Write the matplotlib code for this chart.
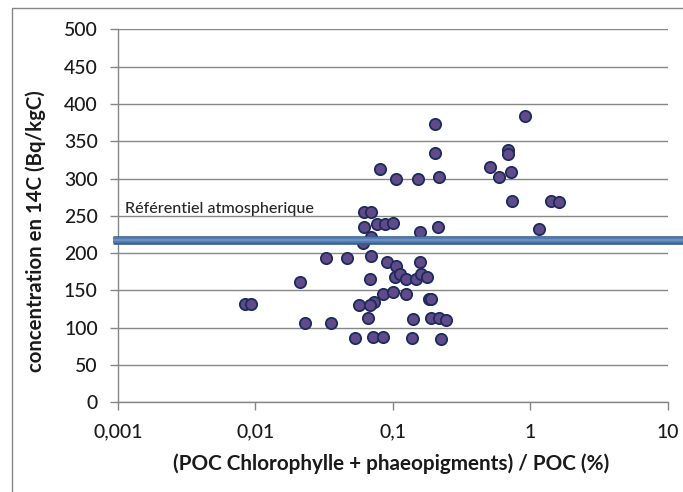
import matplotlib
matplotlib.use("Agg")
import matplotlib.pyplot as plt
from matplotlib.patches import Rectangle

# ratio chlorophylle+phaeopigments / POC (%) and 14C concentration (Bq/kgC)
ratio = [0.00832, 0.00931, 0.0212, 0.0228, 0.0328, 0.0356, 0.0462, 0.0526,
         0.0567, 0.0611, 0.0692, 0.0617, 0.0605, 0.0692, 0.0692, 0.0675,
         0.0658, 0.0713, 0.0726, 0.0684, 0.0769, 0.0871, 0.1003, 0.0844,
         0.0844, 0.0910, 0.1048, 0.1003, 0.1035, 0.1116, 0.124, 0.124,
         0.137, 0.139, 0.146, 0.156, 0.156, 0.159, 0.178, 0.183,
         0.190, 0.188, 0.216, 0.212, 0.222, 0.241, 0.728, 1.16,
         1.41, 1.62, 0.203, 0.906, 0.203, 0.684, 0.687, 0.0798,
         0.507, 0.716, 0.1044, 0.153, 0.216, 0.589]
conc = [131.7, 131.7, 161.6, 105.8, 192.9, 105.8, 192.9, 86.6,
        130.8, 254.9, 254.9, 234.4, 213.8, 221, 196, 164.7,
        113.4, 87, 133.9, 130.8, 238.8, 238.8, 241, 145,
        87, 187.5, 182.6, 148.2, 167.4, 171.4, 164.7, 145,
        86.6, 111.2, 164.7, 228.6, 187.5, 171.4, 167.4, 138.4,
        138.4, 113.4, 113.4, 234.4, 85.3, 109.8, 269.6, 231.7,
        269.6, 268.3, 372.6, 383.4, 333.6, 338.6, 333.2, 313,
        315.2, 309, 298.7, 298.7, 301.8, 301.8]

ref_value = 217
ref_label = "Référentiel atmospherique"
xticks = [0.001, 0.01, 0.1, 1, 10]
xtick_labels = ["0,001", "0,01", "0,1", "1", "10"]
yticks = list(range(0, 501, 50))

plt.rcParams["font.family"] = ["Lato", "DejaVu Sans"]
grey = "#868686"
ink = "#1a1a1a"

fig = plt.figure(figsize=(6.83, 4.92), dpi=100)
ax = fig.add_axes([118 / 683, 1 - 402.3 / 492, 550 / 683, 373 / 492])
renderer = fig.canvas.get_renderer()


def fit(txt, target, vertical=False):
    # scale a text so its rendered extent matches the reference (pixels)
    bb = txt.get_window_extent(renderer)
    cur = bb.height if vertical else bb.width
    txt.set_fontsize(txt.get_fontsize() * target / cur)
    return txt.get_fontsize()


# outer chart border (right and bottom fall outside the picture)
fig.patches.append(Rectangle((12 / 683, -0.5), 2, 0.5 + (492 - 7.5) / 492,
                             transform=fig.transFigure, fill=False,
                             edgecolor=grey, linewidth=1.0))

ax.scatter(ratio, conc, s=66, color="#5f4b8b", edgecolor="#1f2a5c",
           linewidth=1.3, zorder=3, clip_on=False)

# reference line, drawn over the points and out past the plot area
line_x = [0.00092, 20]
ax.plot(line_x, [ref_value] * 2, color="#385d8a", lw=6.2,
        solid_capstyle="butt", zorder=4, clip_on=False)
ax.plot(line_x, [ref_value] * 2, color="#4f7cb6", lw=4.2,
        solid_capstyle="butt", zorder=4, clip_on=False)
ax.plot(line_x, [ref_value] * 2, color="#7296c8", lw=1.2,
        solid_capstyle="butt", zorder=4, clip_on=False)
ref_txt = ax.text(0.00113, 259, ref_label, fontsize=11, color="#262626",
                  va="center", fontweight="medium")
fit(ref_txt, 190)

ax.set_xscale("log")
ax.set_xlim(0.001, 10)
ax.set_ylim(0, 500)
ax.set_xticks(xticks)
ax.set_xticklabels(xtick_labels)
ax.minorticks_off()
ax.set_yticks(yticks)

# tick label size from the width of "0,001" in the reference (49 px)
probe = fig.text(0, 0, "0,001", fontsize=13, fontweight="medium")
tick_size = fit(probe, 49)
probe.remove()

ax.yaxis.grid(True, color=grey, linewidth=1.0)
ax.set_axisbelow(True)
for side in ["top", "right"]:
    ax.spines[side].set_visible(False)
for side in ["left", "bottom"]:
    ax.spines[side].set_color(grey)
    ax.spines[side].set_linewidth(1.0)
ax.tick_params(axis="both", direction="out", length=5.5, width=1.0,
               color=grey, labelsize=tick_size, labelcolor=ink)
for lab in ax.get_xticklabels() + ax.get_yticklabels():
    lab.set_fontweight("medium")
ax.tick_params(axis="y", pad=9)
ax.tick_params(axis="x", pad=10)

xl = fig.text(391 / 683, 1 - 464 / 492,
              "(POC Chlorophylle + phaeopigments) / POC (%)",
              ha="center", va="center", fontsize=13, fontweight="bold",
              color=ink)
fit(xl, 436)
yl = fig.text(36 / 683, 1 - 231 / 492, "concentration en 14C (Bq/kgC)",
              ha="center", va="center", rotation=90, fontsize=13,
              fontweight="bold", color=ink)
fit(yl, 282, vertical=True)

fig.savefig("out.png", dpi=100)
